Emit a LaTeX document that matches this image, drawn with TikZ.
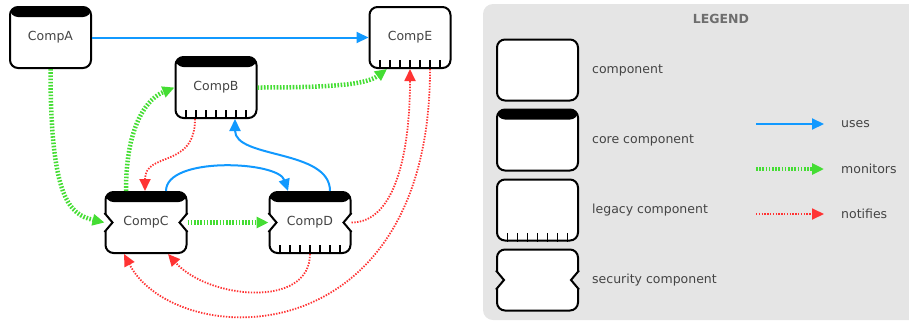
\documentclass[tikz,border=0pt]{standalone}
\usepackage{fontspec}
\setmainfont{DejaVu Sans}
\usetikzlibrary{arrows.meta,positioning,calc}
\definecolor{usesblue}{RGB}{17,153,255}
\definecolor{monitorgreen}{RGB}{68,221,51}
\definecolor{notifyred}{RGB}{255,51,51}
\definecolor{legendgray}{RGB}{229,229,229}
\definecolor{textgray}{RGB}{68,68,68}
\tikzset{>={Triangle[length=12pt,width=11pt]}}

\begin{document}
\begin{tikzpicture}[x=1pt,y=-1pt,font=\fontsize{12.5}{15}\selectfont,text=textgray,
		comp/.style={draw=black, fill=white, line width=2pt, rounded corners=8pt, minimum width=81pt, minimum height=61pt, inner sep=0pt},
		core/.style={path picture={\fill[black] (path picture bounding box.north west) rectangle ([yshift=-10pt]path picture bounding box.north east);}},
		legtext/.style={inner sep=0pt},
		uses/.style={->, draw=usesblue, line width=2pt},
		monitors/.style={->, draw=monitorgreen, line width=4.5pt, dash pattern=on 1.6pt off 1.6pt},
		notifies/.style={->, draw=notifyred, line width=1.8pt, dash pattern=on 1.4pt off 1.4pt}]
		\useasboundingbox (0,0) rectangle (909,322);
		% legend background
		\fill[legendgray, rounded corners=10pt] (483,4) rectangle (930,320);
		\node[legtext, text={rgb,255:red,110;green,110;blue,110}, font=\fontsize{12.5}{15}\selectfont\bfseries] (legend) at (721,19) {LEGEND};

		% components
		\node[comp,core] (A) at (50.5,37.5) {CompA};
		\node[comp,core] (B) at (216,87.5) {CompB};
		\node[comp] (E) at (410,37.5) {CompE};
		\node[comp,core] (C) at (146,222.5) {CompC};
		\node[comp,core] (D) at (310,222.5) {CompD};

		% legend shapes
		\node[comp] (lcomp) at (537.5,70) {};
		\node[comp,core] (lcore) [below=7pt of lcomp] {};
		\node[comp] (llegacy) [below=7pt of lcore] {};
		\node[comp] (lsecure) [below=7pt of llegacy] {};
		\node[legtext] (tcomp) [right=13pt of lcomp] {component};
		\node[legtext] (tcore) [right=13pt of lcore] {core component};
		\node[legtext] (tlegacy) [right=13pt of llegacy] {legacy component};
		\node[legtext] (tsecure) [right=13pt of lsecure] {security component};

		% legacy ticks
		\foreach \n in {B,D,E,llegacy}
			\foreach \i in {-3,...,3}
				\draw[line width=1.7pt] ([xshift=\i*10pt]\n.south) -- ++(0,-9);

		% security notches
		\foreach \n/\bg in {C/white,D/white,lsecure/legendgray}{
			\fill[\bg] ($(\n.west)+(-1.5,-10.5)$) -- ($(\n.west)+(8,0)$) -- ($(\n.west)+(-1.5,10.5)$) -- cycle;
			\fill[\bg] ($(\n.east)+(1.5,-10.5)$) -- ($(\n.east)+(-8,0)$) -- ($(\n.east)+(1.5,10.5)$) -- cycle;
			\draw[line width=2pt] ($(\n.west)+(0,-9.5)$) -- ($(\n.west)+(8,0)$) -- ($(\n.west)+(0,9.5)$);
			\draw[line width=2pt] ($(\n.east)+(0,-9.5)$) -- ($(\n.east)+(-8,0)$) -- ($(\n.east)+(0,9.5)$);
		}

		% connectors
		\draw[uses] (A.east) -- (E.west);
		\draw[monitors] (A.south) .. controls +(0,130) and +(-35,-8) .. (C.west);
		\draw[monitors] ([xshift=-20pt]C.north) .. controls +(0,-70) and +(-25,10) .. (B.west);
		\draw[monitors] (B.east) .. controls +(80,0) and +(-20,15) .. ([xshift=-23pt]E.south);
		\draw[monitors] (C.east) -- (D.west);
		\draw[uses] ([xshift=20pt]C.north) .. controls +(0,-35) and +(-10,-30) .. ([xshift=-22pt]D.north);
		\draw[uses] ([xshift=20pt]D.north) .. controls +(0,-42) and +(0,40) .. ([xshift=19pt]B.south);
		\draw[notifies] ([xshift=-21pt]B.south) .. controls +(0,50) and +(0,-40) .. ([xshift=-1pt]C.north);
		\draw[notifies] (D.east) .. controls +(45,0) and +(0,80) .. (E.south);
		\draw[notifies] ([xshift=20pt]E.south) .. controls +(0,291) and +(51,97) .. ([xshift=-22pt]C.south);
		\draw[notifies] (D.south) .. controls +(0,55) and +(40,45) .. ([xshift=22pt]C.south);

		% legend connectors
		\coordinate (usesA) at (756,124);
		\coordinate (usesB) at (824,124);
		\coordinate (monA) at (756,169);
		\coordinate (monB) at (824,169);
		\coordinate (notA) at (756,214);
		\coordinate (notB) at (824,214);
		\draw[uses] (usesA) -- (usesB);
		\draw[monitors] (monA) -- (monB);
		\draw[notifies] (notA) -- (notB);
		\node[legtext, anchor=west] (tuses) [right=17pt of usesB] {uses};
		\node[legtext, anchor=west] (tmon) [right=17pt of monB] {monitors};
		\node[legtext, anchor=west] (tnot) [right=17pt of notB] {notifies};
	\end{tikzpicture}
\end{document}
